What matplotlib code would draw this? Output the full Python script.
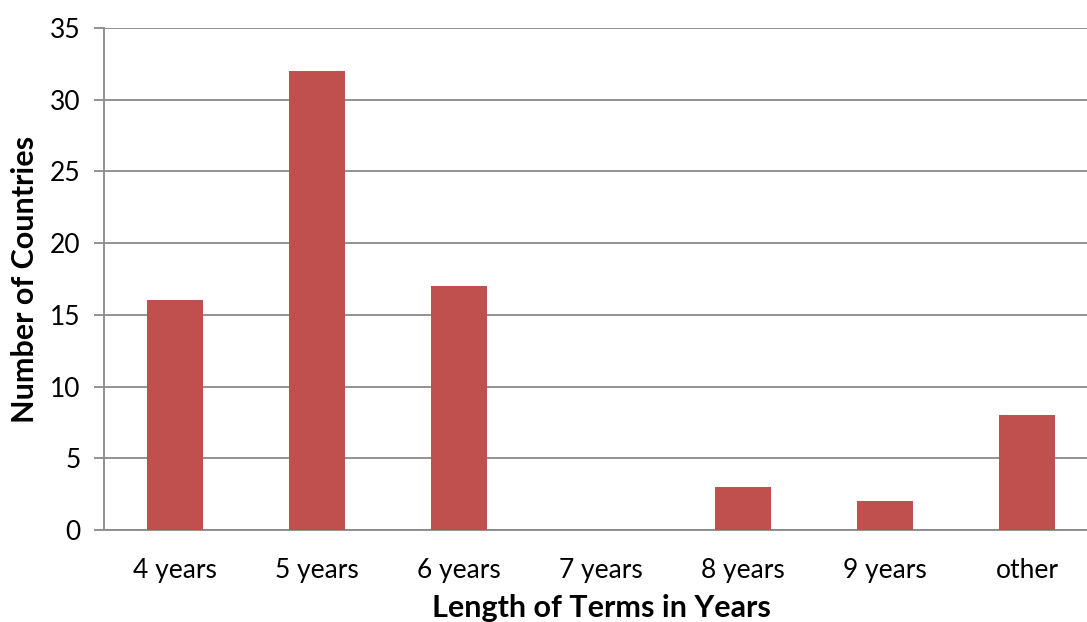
import matplotlib
matplotlib.use('Agg')
from matplotlib import pyplot as plt

# Term lengths and how many countries use each
categories = ['4 years', '5 years', '6 years', '7 years', '8 years', '9 years', 'other']
countries = [16, 32, 17, 0, 3, 2, 8]
y_ticks = [0, 5, 10, 15, 20, 25, 30, 35]

plt.rcParams['font.family'] = ['Lato', 'DejaVu Sans']

fig = plt.figure(figsize=(10.87, 6.22), dpi=100)
ax = fig.add_axes([0.0957, 0.148, 0.9144, 0.807])

positions = list(range(len(categories)))
ax.bar(positions, countries, width=0.4, color='#C0504D', zorder=3)

ax.set_xlim(-0.5, len(categories) - 0.5)
ax.set_ylim(0, 35)
ax.set_yticks(y_ticks)
ax.set_xticks(positions)
ax.set_xticklabels(categories)

# Excel-like gridlines and axes
ax.yaxis.grid(True, color='#898989', linewidth=1.3, zorder=0)
for side in ['top', 'right']:
    ax.spines[side].set_visible(False)
ax.spines['left'].set_color('#898989')
ax.spines['bottom'].set_color('#898989')
ax.spines['left'].set_linewidth(1.3)
ax.spines['bottom'].set_linewidth(1.3)
ax.tick_params(axis='y', length=7, width=1.3, color='#898989', labelsize=19, pad=10)
ax.tick_params(axis='x', length=0, labelsize=19, pad=20)

ax.set_xlabel('Length of Terms in Years', fontsize=22, fontweight='bold', labelpad=8)
ax.set_ylabel('Number of Countries', fontsize=22, fontweight='bold', labelpad=8)

fig.savefig('out.png', dpi=100)
